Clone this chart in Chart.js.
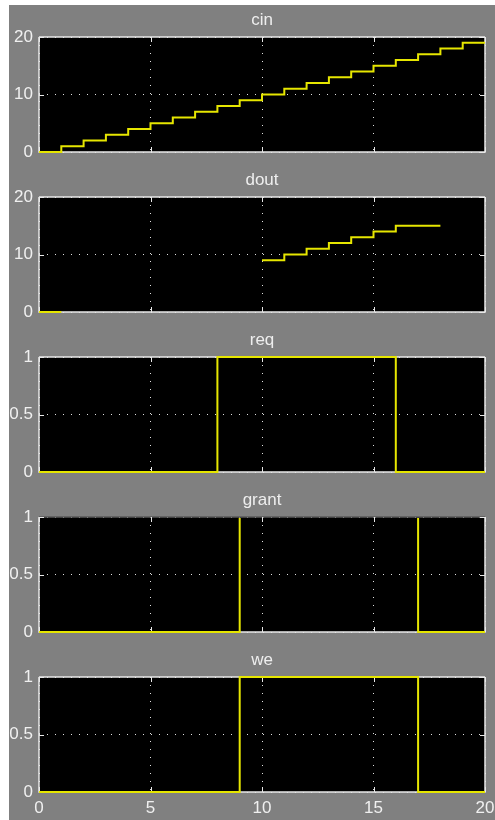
<!DOCTYPE html>
<html>
<head>
<meta charset="utf-8">
<script src="https://cdn.jsdelivr.net/npm/chart.js@4/dist/chart.umd.min.js"></script>
<style>
  html, body { margin: 0; padding: 0; background: #fff; }
  #scope {
    position: absolute; left: 9px; top: 5px;
    width: 486px; height: 815px; background: #808080;
  }
  #scope canvas { display: block; }
</style>
</head>
<body>
<div id="scope">
  <canvas id="c0" width="486" height="160"></canvas>
  <canvas id="c1" width="486" height="160"></canvas>
  <canvas id="c2" width="486" height="160"></canvas>
  <canvas id="c3" width="486" height="160"></canvas>
  <canvas id="c4" width="486" height="175"></canvas>
</div>
<script>
// simulation time, one sample per step
const timeSteps = [0, 1, 2, 3, 4, 5, 6, 7, 8, 9, 10, 11, 12, 13, 14, 15, 16, 17, 18, 19, 20];

const cinValues   = [0, 1, 2, 3, 4, 5, 6, 7, 8, 9, 10, 11, 12, 13, 14, 15, 16, 17, 18, 19, 19];
const doutValues  = [0, 0, null, null, null, null, null, null, null, null, 9, 10, 11, 12, 13, 14, 15, 15, 15, null, null];
const reqValues   = [0, 0, 0, 0, 0, 0, 0, 0, 1, 1, 1, 1, 1, 1, 1, 1, 0, 0, 0, 0, 0];
const grantValues = [0, 0, 0, 0, 0, 0, 0, 0, 0, 1, 1, 1, 1, 1, 1, 1, 1, 0, 0, 0, 0];
const weValues    = [0, 0, 0, 0, 0, 0, 0, 0, 0, 1, 1, 1, 1, 1, 1, 1, 1, 0, 0, 0, 0];

const panelTitles = ["cin", "dout", "req", "grant", "we"];
const panelSeries = [cinValues, doutValues, reqValues, grantValues, weValues];
const panelYMax   = [20, 20, 1, 1, 1];
const panelYStep  = [10, 10, 0.5, 0.5, 0.5];
const xTicks      = [0, 5, 10, 15, 20];

Chart.defaults.font.family = "'Liberation Sans', Arial, sans-serif";
Chart.defaults.font.size = 17;
Chart.defaults.color = "#f0f0f0";

const BOX = "#e8e8e8";
const TRACE = "#e6e600";

// black plot area, white frame, inward ticks, title above
const scopePlugin = {
  id: "scope",
  beforeDraw(chart) {
    const a = chart.chartArea, ctx = chart.ctx;
    ctx.save();
    ctx.fillStyle = "#000";
    ctx.fillRect(a.left, a.top, a.right - a.left, a.bottom - a.top);
    ctx.fillStyle = "#eeeeee";
    ctx.textAlign = "center";
    ctx.textBaseline = "alphabetic";
    ctx.font = "17px 'Liberation Sans', Arial, sans-serif";
    ctx.fillText(chart.options.plugins.scope.title, (a.left + a.right) / 2, a.top - 12);
    ctx.restore();
  },
  beforeDatasetsDraw(chart) {
    const a = chart.chartArea, ctx = chart.ctx;
    const xs = chart.scales.x, ys = chart.scales.y;
    ctx.save();
    ctx.strokeStyle = BOX;
    ctx.lineWidth = 1.5;
    ctx.beginPath();
    ctx.moveTo(a.left, a.top); ctx.lineTo(a.left, a.bottom);
    ctx.lineTo(a.right, a.bottom); ctx.lineTo(a.right, a.top);
    ctx.stroke();
    ctx.strokeStyle = chart.options.plugins.scope.topColor;
    ctx.beginPath();
    ctx.moveTo(a.left, a.top); ctx.lineTo(a.right, a.top);
    ctx.stroke();
    ctx.strokeStyle = BOX;
    ctx.lineWidth = 1;
    ctx.beginPath();
    xs.ticks.forEach(t => {
      const px = Math.round(xs.getPixelForValue(t.value)) + 0.5;
      ctx.moveTo(px, a.top); ctx.lineTo(px, a.top + 5);
      ctx.moveTo(px, a.bottom); ctx.lineTo(px, a.bottom - 5);
    });
    ys.ticks.forEach(t => {
      const py = Math.round(ys.getPixelForValue(t.value)) + 0.5;
      ctx.moveTo(a.left, py); ctx.lineTo(a.left + 5, py);
      ctx.moveTo(a.right, py); ctx.lineTo(a.right - 5, py);
    });
    ctx.stroke();
    ctx.restore();
  }
};

function makePanel(i) {
  const last = i === panelTitles.length - 1;
  const canvas = document.getElementById("c" + i);
  const hidden = panelTitles[i] === "grant";
  return new Chart(canvas, {
    type: "line",
    data: {
      labels: timeSteps,
      datasets: [{
        data: panelSeries[i].map((v, k) => ({ x: timeSteps[k], y: v })),
        borderColor: TRACE,
        borderWidth: 2,
        pointRadius: 0,
        stepped: true,
        fill: false,
        spanGaps: false,
        clip: hidden ? { left: 2, right: 2, bottom: 2, top: -1 } : 2
      }]
    },
    options: {
      responsive: false,
      animation: false,
      devicePixelRatio: 1,
      layout: { padding: { top: 32, right: 10, left: 0, bottom: last ? 0 : 13 } },
      plugins: {
        legend: { display: false },
        tooltip: { enabled: false },
        scope: { title: panelTitles[i], topColor: hidden ? "#585858" : BOX }
      },
      scales: {
        x: {
          type: "linear",
          min: 0, max: 20,
          afterBuildTicks: s => { s.ticks = xTicks.map(v => ({ value: v })); },
          ticks: { display: last, padding: 6, maxRotation: 0, color: "#f0f0f0" },
          grid: { color: "#e0e0e0", lineWidth: 1, drawTicks: false },
          border: { display: false, dash: [1, 7] },
          afterFit: s => {
            s.height = last ? 28 : 0;
            s.paddingLeft = 0;
            s.paddingRight = 0;
          }
        },
        y: {
          min: 0, max: panelYMax[i],
          ticks: {
            stepSize: panelYStep[i], padding: 6, color: "#f0f0f0",
            callback: v => String(v)
          },
          grid: { color: "#e0e0e0", lineWidth: 1, drawTicks: false },
          border: { display: false, dash: [1, 7] },
          afterFit: s => {
            s.width = 30;
            s.paddingTop = 0;
            s.paddingBottom = 0;
          }
        }
      }
    },
    plugins: [scopePlugin]
  });
}

panelTitles.forEach((_, i) => makePanel(i));
</script>
</body>
</html>
